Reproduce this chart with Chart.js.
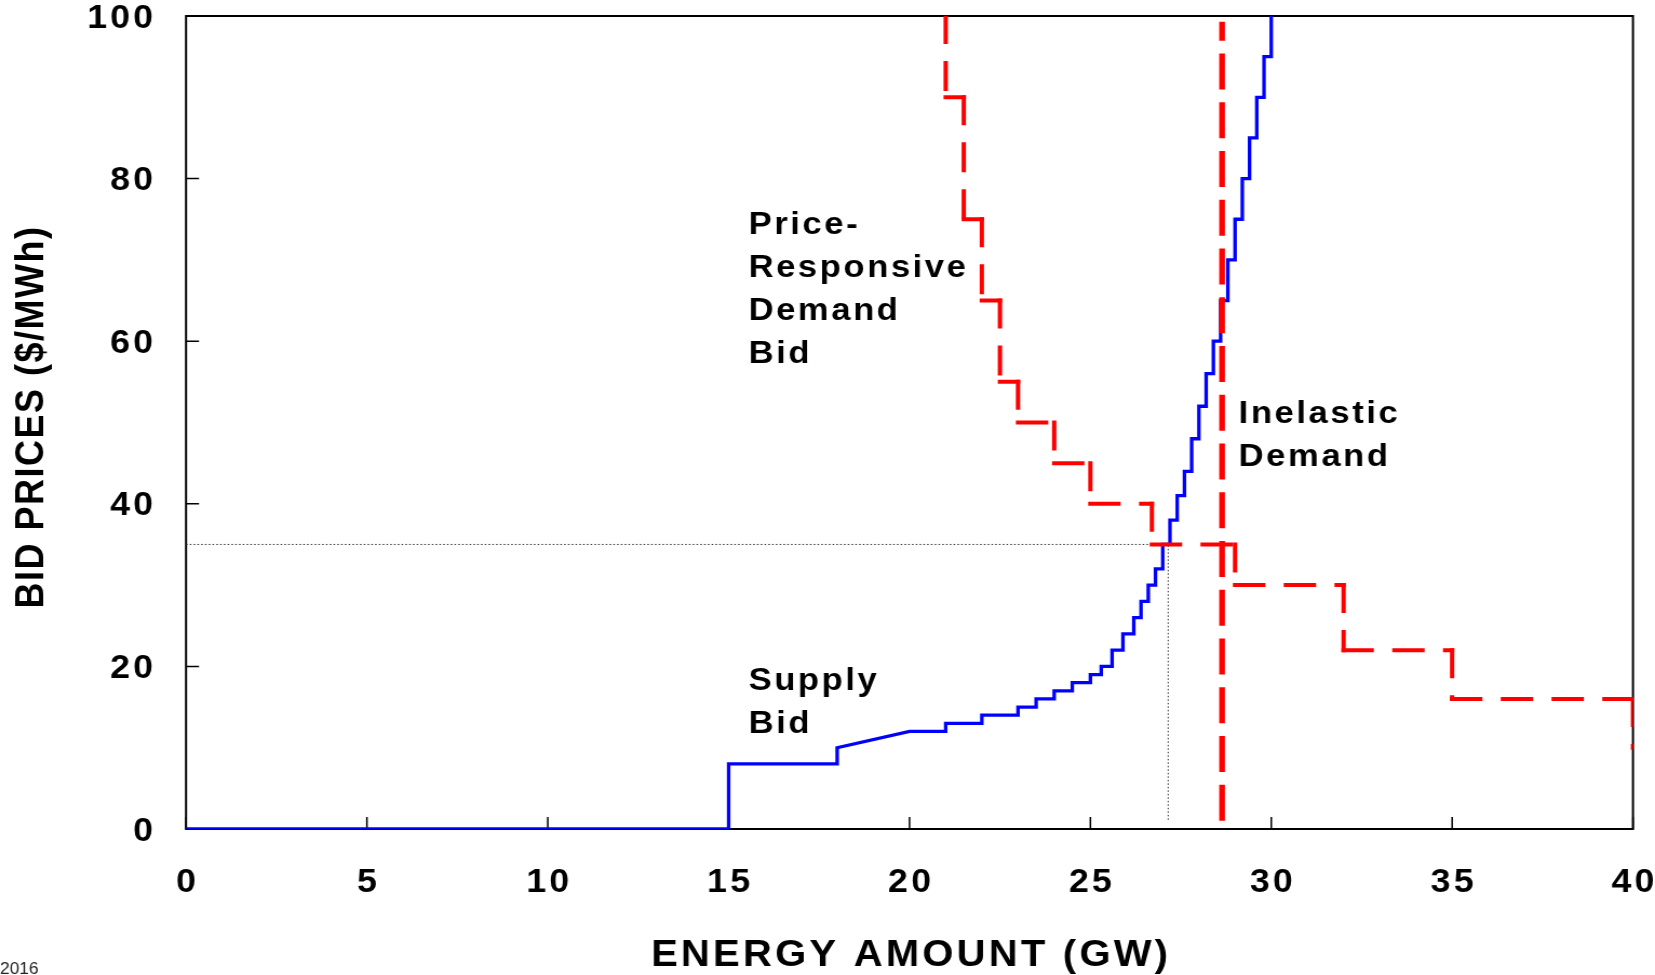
<!DOCTYPE html>
<html>
<head>
<meta charset="utf-8">
<script src="https://cdn.jsdelivr.net/npm/chart.js@4"></script>
<style>
  html, body { margin: 0; padding: 0; background: #fff; overflow: hidden; }
  /* the source graphic is slightly stretched sideways, so the chart is too */
  #wrap { width: 1532px; height: 975px; position: relative; transform: scale(1.0803, 1); transform-origin: 0 0; }
</style>
</head>
<body>
<div id="wrap"><canvas id="bidChart"></canvas></div>
<script>
// supply bid curve (GW, $/MWh), vertices
const supplyX = [0, 15, 15, 18, 18, 20, 21, 21, 22, 22, 23, 23,
  23.5, 23.5, 24, 24, 24.5, 24.5, 25, 25, 25.3, 25.3, 25.6, 25.6,
  25.9, 25.9, 26.2, 26.2, 26.4, 26.4, 26.6, 26.6, 26.8, 26.8, 27.0, 27.0,
  27.2, 27.2, 27.4, 27.4, 27.6, 27.6, 27.8, 27.8, 28.0, 28.0, 28.2, 28.2,
  28.4, 28.4, 28.6, 28.6, 28.8, 28.8, 29.0, 29.0, 29.2, 29.2, 29.4, 29.4,
  29.6, 29.6, 29.8, 29.8, 30, 30];
const supplyY = [0, 0, 8, 8, 10, 12, 12, 13, 13, 14, 14, 15,
  15, 16, 16, 17, 17, 18, 18, 19, 19, 20, 20, 22,
  22, 24, 24, 26, 26, 28, 28, 30, 30, 32, 32, 35,
  35, 38, 38, 41, 41, 44, 44, 48, 48, 52, 52, 56,
  56, 60, 60, 65, 65, 70, 70, 75, 75, 80, 80, 85,
  85, 90, 90, 95, 95, 100];

// price-responsive demand bid
const demandX = [21, 21, 21.5, 21.5, 22, 22, 22.5, 22.5, 23, 23, 24, 24,
  25, 25, 26.7, 26.7, 29, 29, 32, 32, 35, 35, 40, 40];
const demandY = [100, 90, 90, 75, 75, 65, 65, 55, 55, 50, 50, 45,
  45, 40, 40, 35, 35, 30, 30, 22, 22, 16, 16, 10];

// inelastic demand
const inelasticX = [28.64, 28.64];
const inelasticY = [1, 99.3];

// market clearing point guide lines
const clearX = [0, 27.15, 27.15];
const clearY = [35, 35, 1];

const xTicks = [0, 5, 10, 15, 20, 25, 30, 35, 40];
const yTicks = [0, 20, 40, 60, 80, 100];

const xTitle = "ENERGY AMOUNT (GW)";
const yTitle = "BID PRICES ($/MWh)";

const curveLabels = [
  { lines: ["Price-", "Responsive", "Demand", "Bid"], x: 15.55, y: 74.3 },
  { lines: ["Inelastic", "Demand"], x: 29.1, y: 51.0 },
  { lines: ["Supply", "Bid"], x: 15.55, y: 18.2 }
];

const FONT = '"Liberation Sans", Arial, sans-serif';

const pts = (xs, ys) => xs.map((x, i) => ({ x: x, y: ys[i] }));

// frame and inward tick marks
const framePlugin = {
  id: "frame",
  beforeDatasetsDraw(chart) {
    const { ctx, chartArea: a, scales } = chart;
    ctx.save();
    ctx.strokeStyle = "#000";
    ctx.lineWidth = 2;
    ctx.strokeRect(a.left, a.top, a.right - a.left, a.bottom - a.top);
    ctx.beginPath();
    xTicks.forEach(v => {
      const px = scales.x.getPixelForValue(v);
      ctx.moveTo(px, a.bottom);
      ctx.lineTo(px, a.bottom - 12);
    });
    yTicks.forEach(v => {
      const py = scales.y.getPixelForValue(v);
      ctx.moveTo(a.left, py);
      ctx.lineTo(a.left + 12, py);
    });
    ctx.lineWidth = 1.5;
    ctx.stroke();
    ctx.restore();
  }
};

// spaced lettering for the library's tick labels
const spacingPlugin = {
  id: "spacing",
  beforeLayout(chart) { chart.ctx.letterSpacing = "3px"; },
  beforeDraw(chart) { chart.ctx.letterSpacing = "3px"; }
};

const textPlugin = {
  id: "bidText",
  afterDraw(chart) {
    const { ctx, chartArea: a, scales } = chart;
    ctx.save();
    ctx.fillStyle = "#000";
    ctx.textBaseline = "middle";
    ctx.textAlign = "left";
    ctx.font = "bold 32px " + FONT;
    ctx.letterSpacing = "2.4px";
    curveLabels.forEach(l => {
      const px = scales.x.getPixelForValue(l.x);
      const py = scales.y.getPixelForValue(l.y);
      l.lines.forEach((t, i) => ctx.fillText(t, px, py + i * 43));
    });

    ctx.textAlign = "center";
    ctx.font = "bold 37px " + FONT;
    ctx.letterSpacing = "3px";
    ctx.fillText(xTitle, (a.left + a.right) / 2 + 1.5, 956);

    ctx.save();
    ctx.translate(30.5, 418);
    ctx.rotate(-Math.PI / 2);
    ctx.font = "bold 36px " + FONT;
    ctx.letterSpacing = "1.5px";
    ctx.fillText(yTitle, 1, 0);
    ctx.restore();

    ctx.textAlign = "left";
    ctx.textBaseline = "top";
    ctx.letterSpacing = "0px";
    ctx.font = "16px " + FONT;
    ctx.fillStyle = "#222";
    ctx.fillText("2016", 0, 962);
    ctx.restore();
  }
};

const tickFont = { family: FONT, size: 33, weight: "bold" };

// restart the dash pattern on every step of the demand line
const restartDash = { borderDashOffset: c => (c.p0DataIndex % 2) * 0.001 };

new Chart(document.getElementById("bidChart"), {
  type: "line",
  data: {
    datasets: [
      {
        label: "Inelastic Demand",
        data: pts(inelasticX, inelasticY),
        borderColor: "#ff0000",
        borderWidth: 5.3,
        borderDash: [36, 12.75],
        order: 0
      },
      {
        label: "Price-Responsive Demand Bid",
        data: pts(demandX, demandY),
        borderColor: "#ff0000",
        borderWidth: 4,
        borderDash: [26, 21],
        borderCapStyle: "square",
        segment: restartDash,
        order: 1
      },
      {
        label: "Supply Bid",
        data: pts(supplyX, supplyY),
        borderColor: "#0000ff",
        borderWidth: 3.3,
        order: 2
      },
      {
        label: "Clearing",
        data: pts(clearX, clearY),
        borderColor: "#333",
        borderWidth: 1,
        borderDash: [1.5, 2],
        order: 3
      }
    ]
  },
  options: {
    responsive: true,
    maintainAspectRatio: false,
    animation: false,
    devicePixelRatio: 1,
    elements: {
      point: { radius: 0, hoverRadius: 0 },
      line: { tension: 0, fill: false, borderCapStyle: "butt", borderJoinStyle: "miter" }
    },
    layout: { padding: { top: 16, right: 20.4, left: 0, bottom: 0 } },
    plugins: { legend: { display: false }, tooltip: { enabled: false } },
    scales: {
      x: {
        type: "linear",
        min: 0,
        max: 40,
        afterBuildTicks: s => { s.ticks = xTicks.map(v => ({ value: v })); },
        afterFit: s => {
          s.height = 146;
          s.paddingLeft = 0; s.paddingRight = 0; s.paddingTop = 0; s.paddingBottom = 0;
        },
        grid: { display: false, drawTicks: false },
        border: { display: false },
        ticks: { font: tickFont, color: "#000", padding: 34, labelOffset: 1.5, maxRotation: 0 }
      },
      y: {
        type: "linear",
        min: 0,
        max: 100,
        afterBuildTicks: s => { s.ticks = yTicks.map(v => ({ value: v })); },
        afterFit: s => {
          s.width = 172.2;
          s.paddingLeft = 0; s.paddingRight = 0; s.paddingTop = 0; s.paddingBottom = 0;
        },
        grid: { display: false, drawTicks: false },
        border: { display: false },
        ticks: { font: tickFont, color: "#000", padding: 27.5, labelOffset: 2.5 }
      }
    }
  },
  plugins: [spacingPlugin, framePlugin, textPlugin]
});
</script>
</body>
</html>
